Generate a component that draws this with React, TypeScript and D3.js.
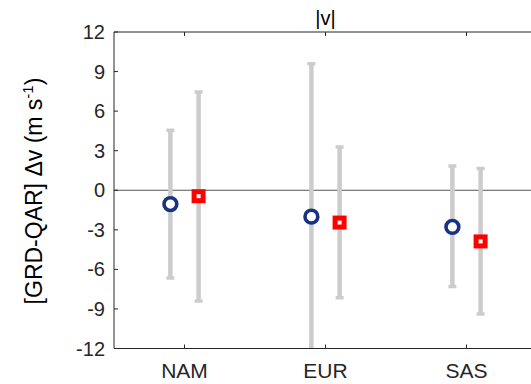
import React from 'react';
import * as d3 from 'd3';

const regions = ['NAM', 'EUR', 'SAS'];
// blue circles (first product)
const circleMean = [-1.05, -2.0, -2.78];
const circleHigh = [4.55, 9.6, 1.84];
const circleLow = [-6.65, -13.5, -7.3];
// red squares (second product)
const squareMean = [-0.45, -2.45, -3.88];
const squareHigh = [7.45, 3.28, 1.64];
const squareLow = [-8.4, -8.15, -9.38];
const yTicks = [-12, -9, -6, -3, 0, 3, 6, 9, 12];

const W = 531;
const H = 384;
const axisColor = '#262626';
const font = 'Arial, "Liberation Sans", sans-serif';

const App = () => {
  const x = d3.scaleLinear().domain([0.5, 3.5]).range([114, 537]);
  const y = d3.scaleLinear().domain([-12, 12]).range([348.5, 32]);
  const off = 0.1;

  const series = [
    { mean: circleMean, hi: circleHigh, lo: circleLow, dx: -off, kind: 'circle' },
    { mean: squareMean, hi: squareHigh, lo: squareLow, dx: off, kind: 'square' },
  ];

  return (
    <svg width={W} height={H} style={{ position: 'absolute', left: 0, top: 0, background: '#fff' }}>
      <defs>
        <clipPath id="plot">
          <rect x={114} y={32} width={W - 114} height={348.5 - 32} />
        </clipPath>
      </defs>

      {/* zero line */}
      <line x1={114} x2={W} y1={y(0)} y2={y(0)} stroke="#555" strokeWidth={1} />

      {/* error bars */}
      <g clipPath="url(#plot)">
        {series.map((s, si) =>
          regions.map((r, i) => {
            const cx = x(i + 1 + s.dx);
            return (
              <g key={`${si}-${r}`}>
                <line x1={cx} x2={cx} y1={y(s.hi[i])} y2={y(s.lo[i])} stroke="#cccccc" strokeWidth={4.5} />
                {[s.hi[i], s.lo[i]].map((v, k) => (
                  <line key={k} x1={cx - 4} x2={cx + 4} y1={y(v)} y2={y(v)} stroke="#cccccc" strokeWidth={3.5} />
                ))}
              </g>
            );
          })
        )}
      </g>

      {/* markers */}
      {series.map((s, si) =>
        regions.map((r, i) => {
          const cx = x(i + 1 + s.dx);
          const cy = y(s.mean[i]);
          return s.kind === 'circle' ? (
            <circle key={`m${si}-${r}`} cx={cx} cy={cy} r={6.4} fill="#fff" stroke="#1a3282" strokeWidth={3.6} />
          ) : (
            <rect key={`m${si}-${r}`} x={cx - 4.5} y={cy - 4.5} width={9} height={9} fill="#fff" stroke="#ff0000" strokeWidth={5} />
          );
        })
      )}

      {/* axes */}
      <line x1={114} x2={W} y1={32} y2={32} stroke={axisColor} strokeWidth={1} />
      <line x1={114} x2={W} y1={348.5} y2={348.5} stroke={axisColor} strokeWidth={1} />
      <line x1={114} x2={114} y1={32} y2={348.5} stroke={axisColor} strokeWidth={1} />
      {regions.map((r, i) => (
        <g key={r}>
          <line x1={x(i + 1)} x2={x(i + 1)} y1={32} y2={36} stroke={axisColor} />
          <line x1={x(i + 1)} x2={x(i + 1)} y1={348.5} y2={344.5} stroke={axisColor} />
          <text x={x(i + 1)} y={378} textAnchor="middle" fontFamily={font} fontSize={21} fill={axisColor}>
            {r}
          </text>
        </g>
      ))}
      {yTicks.map((t) => (
        <g key={t}>
          <line x1={114} x2={118} y1={y(t)} y2={y(t)} stroke={axisColor} />
          <text x={105} y={y(t)} dy="0.35em" textAnchor="end" fontFamily={font} fontSize={20} fill={axisColor}>
            {t}
          </text>
        </g>
      ))}

      {/* title */}
      <text x={x(2)} y={25} textAnchor="middle" fontFamily={font} fontSize={20} fill="#000">
        |v|
      </text>

      {/* y label */}
      <text
        transform={`translate(42,191) rotate(-90)`}
        textAnchor="middle"
        fontFamily={font}
        fontSize={23}
        fill="#000"
      >
        [GRD-QAR] Δv (m s
        <tspan dy={-9} fontSize={15}>-1</tspan>
        <tspan dy={9}>)</tspan>
      </text>
    </svg>
  );
};

export default App;
